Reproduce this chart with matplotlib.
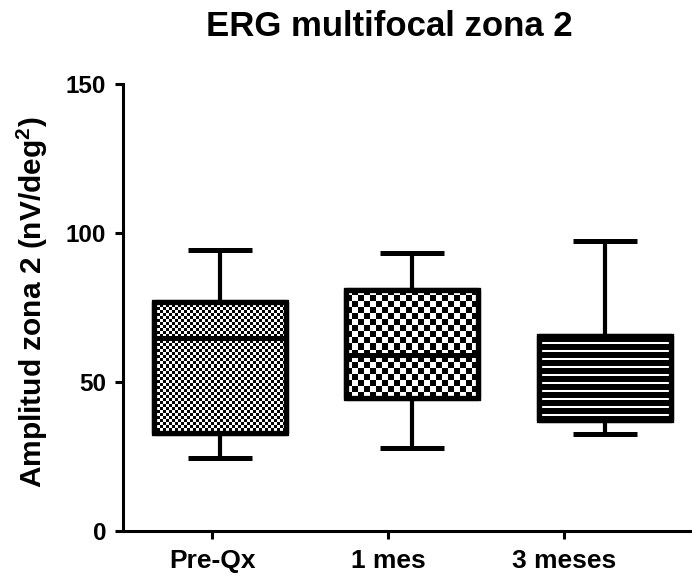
import matplotlib
matplotlib.use("Agg")
import matplotlib.pyplot as plt
import numpy as np
from matplotlib.patches import PathPatch

plt.rcParams['font.family'] = ['Liberation Sans', 'DejaVu Sans']
plt.rcParams['font.weight'] = 'bold'
plt.rcParams['mathtext.fontset'] = 'custom'
plt.rcParams['mathtext.rm'] = 'Liberation Sans:bold'
plt.rcParams['mathtext.bf'] = 'Liberation Sans:bold'

# ---- data ----
groups = ['Pre-Qx', '1 mes', '3 meses']
mins = [24.6, 27.8, 32.6]
q1s = [32.9, 44.6, 37.3]
medians = [64.7, 59.1, 50.0]
q3s = [76.9, 80.9, 65.4]
maxs = [94.3, 93.2, 97.3]
yticks = [0, 50, 100, 150]

title = 'ERG multifocal zona 2'
ylabel = r'Amplitud zona 2 (nV/deg$^{\mathbf{2}}$)'

# ---- layout ----
W, H = 692, 578
fig = plt.figure(figsize=(W / 100, H / 100), dpi=100)
ax = fig.add_axes([123 / W, 1 - 531 / H, (W - 123) / W, (531 - 84) / H])

tick_pos = [1, 2, 3]
box_pos = [1.045, 2.136, 3.233]
box_w = 0.75
cap_w = 0.364

stats = []
for g, lo, a, m, b, hi in zip(groups, mins, q1s, medians, q3s, maxs):
    stats.append(dict(label=g, whislo=lo, q1=a, med=m, q3=b, whishi=hi, fliers=[]))

art = ax.bxp(stats, positions=box_pos, widths=box_w, capwidths=cap_w,
             patch_artist=True, showfliers=False,
             boxprops=dict(facecolor='white', edgecolor='black', linewidth=3.8, zorder=2),
             whiskerprops=dict(color='black', linewidth=3.0, solid_capstyle='butt', zorder=1),
             capprops=dict(color='black', linewidth=3.6, solid_capstyle='butt', zorder=1),
             medianprops=dict(color='black', linewidth=3.6, solid_capstyle='butt', zorder=5))

# the third median is hidden under the striped fill in the reference
art['medians'][2].set_zorder(2.5)

ax.set_xlim(0.494, 3.727)
ax.set_ylim(0, 150)
fig.canvas.draw()


def texture(kind, w, h):
    r = np.arange(h)[:, None]
    c = np.arange(w)[None, :]
    if kind == 'fine':
        return ((r // 3 + c // 3) % 2).astype(float)
    if kind == 'coarse':
        return ((r // 6 + c // 6) % 2).astype(float)
    arr = np.ones((h, w))
    arr[(r[:, 0] % 8) >= 6, :] = 0.0
    return arr


kinds = ['fine', 'coarse', 'stripes']
for i, patch in enumerate(art['boxes']):
    x0, x1 = box_pos[i] - box_w / 2, box_pos[i] + box_w / 2
    y0, y1 = q1s[i], q3s[i]
    (px0, py0), (px1, py1) = ax.transData.transform([(x0, y0), (x1, y1)])
    w = max(int(round(px1 - px0)), 1)
    h = max(int(round(py1 - py0)), 1)
    arr = texture(kinds[i], w, h)
    im = ax.imshow(arr, extent=(x0, x1, y0, y1), cmap='gray_r', vmin=0, vmax=1,
                   interpolation='nearest', aspect='auto', zorder=3)
    im.set_clip_path(patch)
    edge = PathPatch(patch.get_path(), transform=patch.get_transform(),
                     fill=False, edgecolor='black', linewidth=3.8,
                     joinstyle='round', zorder=4)
    ax.add_patch(edge)

ax.set_xlim(0.494, 3.727)
ax.set_ylim(0, 150)

# ---- axes styling ----
for s in ['top', 'right']:
    ax.spines[s].set_visible(False)
for s in ['left', 'bottom']:
    ax.spines[s].set_linewidth(2.2)
ax.spines['left'].set_bounds(0, 150)

ax.set_xticks(tick_pos)
ax.set_xticklabels(groups)
ax.set_yticks(yticks)
ax.set_yticklabels([str(v) for v in yticks])
ax.tick_params(axis='both', which='major', direction='out', length=6, width=2.2,
               color='black')
ax.tick_params(axis='y', pad=6, labelsize=17.5)
ax.tick_params(axis='x', pad=7, labelsize=19)
for lab in ax.get_xticklabels() + ax.get_yticklabels():
    lab.set_fontweight('bold')

fig.text(32 / W, 1 - 302 / H, ylabel, rotation=90, ha='center', va='center',
         fontsize=21.5, fontweight='bold')
fig.text(389 / W, 1 - 27 / H, title, ha='center', va='center',
         fontsize=25, fontweight='bold')

fig.savefig('out.png', dpi=100)
